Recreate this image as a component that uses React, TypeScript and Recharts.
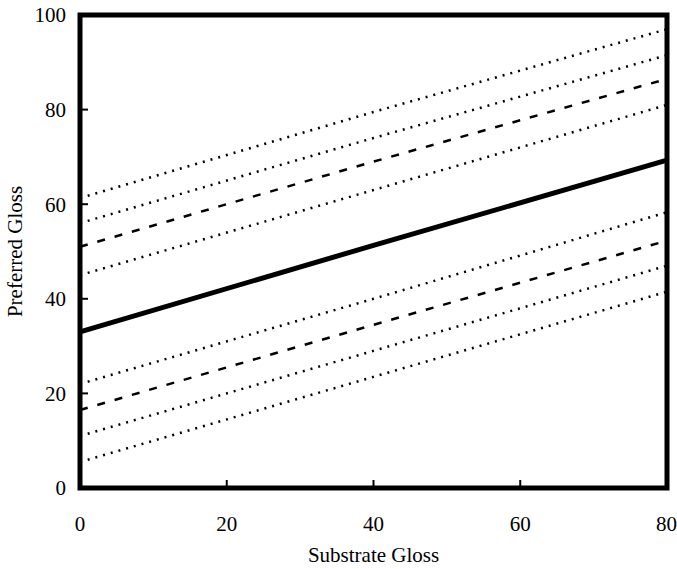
import { LineChart, Line, XAxis, YAxis, ReferenceArea } from 'recharts'

// substrate gloss sample points
const substrate = [0, 40, 80]

// preferred gloss: mean line and the bands around it
const mean = [33, 51.3, 69.3]
const upper4 = [61.3, 79.5, 97]
const upper3 = [56, 74, 91.5]
const upper2 = [51, 69, 86.5]
const upper1 = [45, 63, 81]
const lower1 = [22, 40, 58.3]
const lower2 = [16.5, 34.5, 52.3]
const lower3 = [11, 29, 47]
const lower4 = [5.5, 23.5, 41.5]

const xTicks = [0, 20, 40, 60, 80]
const yTicks = [0, 20, 40, 60, 80, 100]

const data = substrate.map((x, i) => ({
  x,
  mean: mean[i],
  upper4: upper4[i],
  upper3: upper3[i],
  upper2: upper2[i],
  upper1: upper1[i],
  lower1: lower1[i],
  lower2: lower2[i],
  lower3: lower3[i],
  lower4: lower4[i],
}))

const font = '"Liberation Serif", "DejaVu Serif", serif'
const dotted = '2 6'
const dashed = '8 10'

const bands = [
  { key: 'upper4', dash: dotted },
  { key: 'upper3', dash: dotted },
  { key: 'upper2', dash: dashed },
  { key: 'upper1', dash: dotted },
  { key: 'lower1', dash: dotted },
  { key: 'lower2', dash: dashed },
  { key: 'lower3', dash: dotted },
  { key: 'lower4', dash: dotted },
]

export default function App() {
  return (
    <div style={{ position: 'absolute', left: 0, top: 0, background: '#fff' }}>
      <LineChart
        width={677}
        height={569}
        data={data}
        margin={{ top: 15, right: 10, bottom: 0, left: 0 }}
      >
        <XAxis
          dataKey="x"
          type="number"
          domain={[0, 80]}
          ticks={xTicks}
          height={81}
          axisLine={false}
          tickSize={-8}
          tickMargin={36}
          tickLine={{ stroke: '#000', strokeWidth: 2 }}
          tick={{ fill: '#000', fontSize: 21, fontFamily: font }}
          label={{
            value: 'Substrate Gloss',
            position: 'insideBottom',
            offset: 7,
            fill: '#000',
            fontSize: 21,
            fontFamily: font,
          }}
        />
        <YAxis
          type="number"
          domain={[0, 100]}
          ticks={yTicks}
          width={80}
          axisLine={false}
          tickSize={-8}
          tickMargin={22}
          tickLine={{ stroke: '#000', strokeWidth: 2 }}
          tick={{ fill: '#000', fontSize: 21, fontFamily: font }}
          label={{
            value: 'Preferred Gloss',
            position: 'insideLeft',
            angle: -90,
            offset: 15,
            fill: '#000',
            fontSize: 21,
            fontFamily: font,
            style: { textAnchor: 'middle' },
          }}
        />
        <ReferenceArea
          x1={0}
          x2={80}
          y1={0}
          y2={100}
          fill="none"
          stroke="#000"
          strokeWidth={5}
        />
        {bands.map((b) => (
          <Line
            key={b.key}
            dataKey={b.key}
            type="linear"
            stroke="#000"
            strokeWidth={2.5}
            strokeDasharray={b.dash}
            dot={false}
            isAnimationActive={false}
          />
        ))}
        <Line
          dataKey="mean"
          type="linear"
          stroke="#000"
          strokeWidth={5}
          dot={false}
          isAnimationActive={false}
        />
      </LineChart>
    </div>
  )
}
